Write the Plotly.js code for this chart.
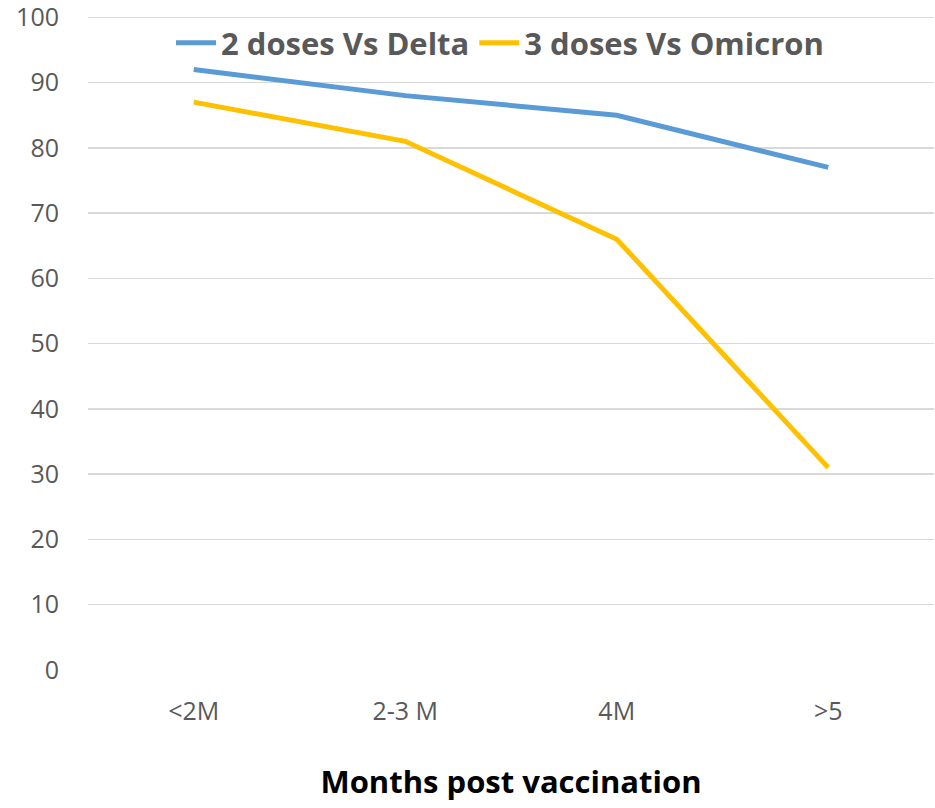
<!DOCTYPE html>
<html>
<head>
<meta charset="utf-8">
<script src="https://cdn.plot.ly/plotly-3.0.1.min.js"></script>
<style>html,body{margin:0;padding:0;background:#fff;}#chart{width:935px;height:808px;}</style>
</head>
<body>
<div id="chart"></div>
<script>
var categories = ["<2M", "2-3 M", "4M", ">5"];
var seriesNames = ["2 doses Vs Delta", "3 doses Vs Omicron"];
var delta2 = [92, 88, 85, 77];
var omicron3 = [87, 81, 66, 31];
var yTicks = [0, 10, 20, 30, 40, 50, 60, 70, 80, 90, 100];
var xTitle = "Months post vaccination";

var traces = [
  {x: categories, y: delta2, name: seriesNames[0], type: "scatter", mode: "lines",
   line: {color: "#5B9BD5", width: 5}},
  {x: categories, y: omicron3, name: seriesNames[1], type: "scatter", mode: "lines",
   line: {color: "#FFC000", width: 5}}
];

var layout = {
  width: 935, height: 808,
  margin: {l: 88, r: 1, t: 16, b: 138},
  paper_bgcolor: "#ffffff", plot_bgcolor: "#ffffff",
  font: {family: "Open Sans, sans-serif", color: "#595959", size: 25},
  showlegend: true,
  legend: {orientation: "h", x: 0.487, xanchor: "center", y: 1.0, yanchor: "top",
           bgcolor: "rgba(255,255,255,0)",
           font: {family: "Open Sans, sans-serif", size: 31, color: "#595959", weight: "bold"},
           itemwidth: 40, traceorder: "normal"},
  xaxis: {type: "category", range: [-0.5, 3.5], showgrid: false, zeroline: false,
          showline: false, ticks: "", ticklabelstandoff: 24,
          tickfont: {size: 25, color: "#595959"},
          title: {text: xTitle, standoff: 45,
                  font: {family: "Open Sans, sans-serif", size: 31, color: "#000000", weight: "bold"}}},
  yaxis: {range: [0, 100.2], tickvals: yTicks, ticktext: yTicks.map(String),
          showgrid: true, gridcolor: "#d9d9d9", gridwidth: 1.5,
          zeroline: false, showline: false, ticks: "", ticklabelstandoff: 28,
          ticklabeloverflow: "allow",
          tickfont: {size: 25, color: "#595959"}}
};

Plotly.newPlot("chart", traces, layout, {displayModeBar: false, staticPlot: true});
</script>
</body>
</html>
